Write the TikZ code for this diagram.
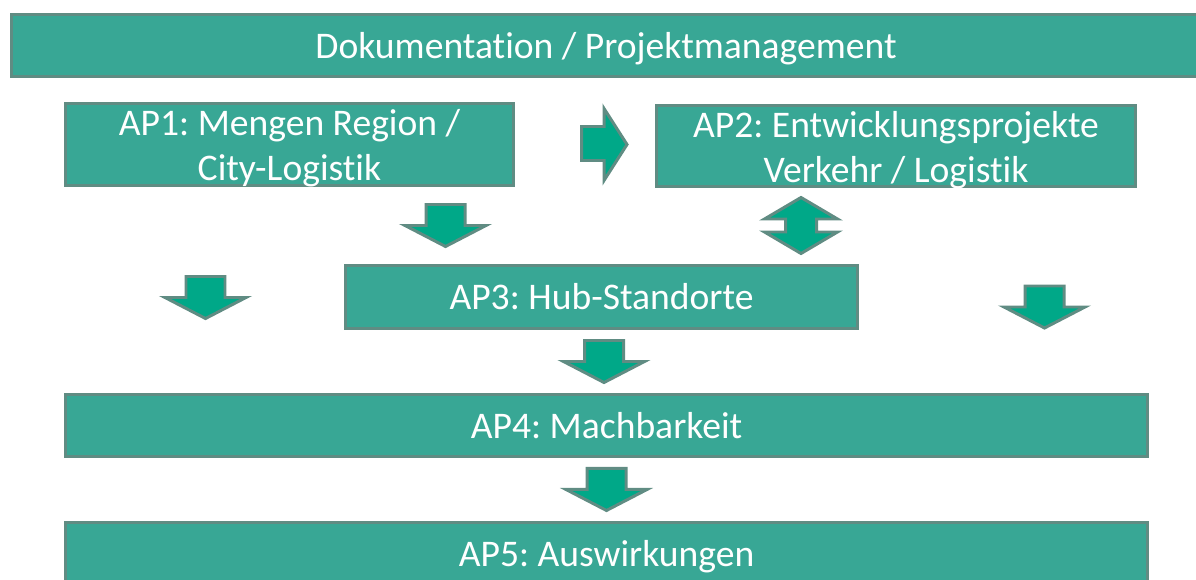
\documentclass[tikz,border=0pt]{standalone}
\usepackage{fontspec}
\setmainfont{Carlito}[Ligatures=NoCommon]
\usetikzlibrary{positioning, calc}
\frenchspacing

\definecolor{apfill}{RGB}{56,167,149}
\definecolor{apline}{RGB}{96,140,131}
\definecolor{blkfill}{RGB}{0,168,136}

\newcommand{\aptop}{\rule{0pt}{20.6pt}}
\newcommand{\apbot}{\rule[-5pt]{0pt}{0pt}}

\begin{document}
\begin{tikzpicture}[
    x=0.02cm, y=-0.02cm,
    apbox/.style={draw=apline, line width=1.7pt, fill=apfill, text=white, inner sep=0pt,
        align=center, font=\fontsize{21.4}{25.6}\selectfont},
    aptwo/.style={apbox, inner ysep=-4pt},
    apone/.style={apbox, text height=14.8pt, text depth=0pt},
    blk/.style={draw=apline, line width=1.7pt, fill=blkfill, line join=miter},
    dnblk/.pic={\draw[blk] (-19.5,-21) -- (19.5,-21) -- (19.5,0) -- (40.5,0) -- (0,21)
        -- (-40.5,0) -- (-19.5,0) -- cycle;},
]
    \clip (0,0) rectangle (1196,580);

    % Frame: documentation
    \node[apone, minimum width=23.8cm, minimum height=1.24cm] (doku) at (606,45.5)
        {Dokumentation / Projektmanagement};

    % Work packages
    \node[aptwo, minimum width=8.96cm, minimum height=1.64cm] (ap1) at (289.5,144.5)
        {\aptop AP1: Mengen Region /\\City-Logistik\apbot};
    \node[aptwo, minimum width=9.58cm, minimum height=1.62cm] (ap2) at (896,146)
        {\aptop AP2: Entwicklungsprojekte\\Verkehr / Logistik\apbot};
    \node[apone, minimum width=10.24cm, minimum height=1.26cm] (ap3) at (601.5,297)
        {AP3: Hub-Standorte};
    \node[apone, minimum width=21.64cm, minimum height=1.24cm] (ap4) at (606.5,425.5)
        {AP4: Machbarkeit};
    \node[apone, minimum width=21.64cm, minimum height=1.24cm, below=1.26cm of ap4] (ap5)
        {AP5: Auswirkungen};

    % AP1 -> AP2
    \draw[blk] (581.5,126.5) -- (604,126.5) -- (604,108.5) -- (627,144.5) -- (604,180.5)
        -- (604,160.5) -- (581.5,160.5) -- cycle;

    % AP2 <-> AP3
    \draw[blk] (801,197.5) -- (837.5,219) -- (816.5,219) -- (816.5,232) -- (837.5,232)
        -- (801,253.5) -- (764.5,232) -- (785.5,232) -- (785.5,219) -- (764.5,219) -- cycle;

    % downward flow
    \pic (a13) at ($(ap1.south)!0.5!(ap3.north)$) {dnblk};
    \pic (a34) at ($(ap3.south)!0.5!(ap4.north)$) {dnblk};
    \pic (a45) at ($(ap4.south)!0.5!(ap5.north)$) {dnblk};
    \pic (aleft) at (205.5,297.5) {dnblk};
    \pic (aright) at (1044.5,307) {dnblk};

\end{tikzpicture}
\end{document}
